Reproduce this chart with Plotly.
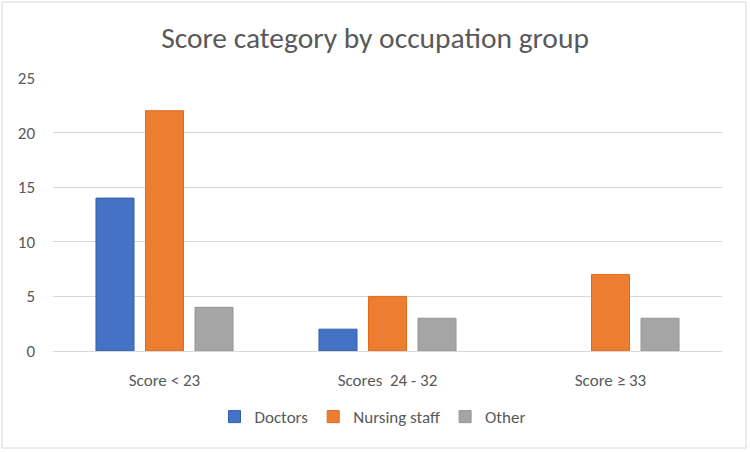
import plotly.graph_objects as go

categories = ["Score < 23", "Scores  24 - 32", "Score ≥ 33"]
doctors = [14, 2, 0]
nursing = [22, 5, 7]
other = [4, 3, 3]
y_ticks = [0, 5, 10, 15, 20, 25]

FONT = "Calibri, Carlito, Lato, sans-serif"
TXT = "#595959"


def outline(vals):
    return [1 if v > 0 else 0 for v in vals]


fig = go.Figure()
fig.add_trace(go.Bar(name="Doctors", x=categories, y=doctors,
                     marker=dict(color="#4472C4", line=dict(color="#2F5FB3", width=outline(doctors)))))
fig.add_trace(go.Bar(name="Nursing staff", x=categories, y=nursing,
                     marker=dict(color="#ED7D31", line=dict(color="#E36A15", width=outline(nursing)))))
fig.add_trace(go.Bar(name="Other", x=categories, y=other,
                     marker=dict(color="#A5A5A5", line=dict(color="#959595", width=outline(other)))))

fig.update_layout(
    width=750, height=452,
    margin=dict(l=53, r=28, t=78, b=101),
    paper_bgcolor="white", plot_bgcolor="white",
    barmode="group", bargap=0.334, bargroupgap=0.232,
    font=dict(family=FONT, color=TXT, size=17),
    title=dict(text="Score category by occupation group", x=0.5, xanchor="center",
               y=1 - 38 / 452, yanchor="middle",
               font=dict(family=FONT, size=29.5, color=TXT)),
    legend=dict(orientation="h", x=0.5 - 15 / 669, xanchor="center", y=-0.242, yanchor="middle",
                font=dict(family=FONT, size=17, color=TXT), itemwidth=30,
                traceorder="normal"),
    showlegend=True,
)
fig.update_yaxes(range=[0, 25], tickvals=y_ticks, showgrid=True, gridcolor="#D9D9D9",
                 gridwidth=1, zeroline=False, showline=False, ticks="",
                 ticklabelstandoff=17, tickfont=dict(size=17, color=TXT))
fig.update_xaxes(showline=True, linecolor="#D9D9D9", linewidth=1, ticks="",
                 tickfont=dict(size=17, color=TXT), ticklabelstandoff=14)

fig.add_shape(type="rect", xref="paper", yref="paper",
              x0=(2 - 53) / 669, x1=(746 - 53) / 669,
              y0=(351 - 448) / 273, y1=(351 - 2) / 273,
              line=dict(color="#D9D9D9", width=1), fillcolor="rgba(0,0,0,0)", layer="below")

fig.write_html("out.html", config={"displayModeBar": False},
               post_script="document.body.style.margin='0';")
